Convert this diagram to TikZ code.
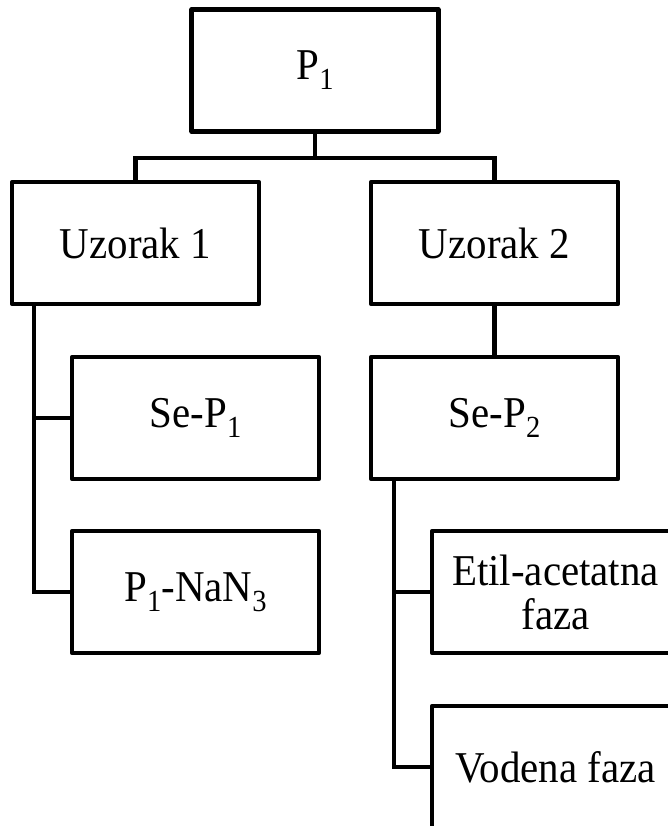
\documentclass[tikz,border=0pt]{standalone}
\usepackage{fontspec}
\setmainfont{Liberation Serif}[FakeStretch=0.93]
\newcommand{\subidx}[1]{\raisebox{-7.5pt}{\fontsize{23}{23}\selectfont #1}}

\begin{document}
\begin{tikzpicture}[x=0.75pt,y=-0.75pt,
  box/.style={draw,line width=3.3pt,line join=round,minimum width=185pt,minimum height=91.5pt,
    inner sep=0pt,align=center,font=\fontsize{33}{33}\selectfont},
  link/.style={line width=3.3pt}]
\useasboundingbox (0,0) rectangle (668,826);
\clip (0,0) rectangle (668,826);
\node[box] (p1) at (315,70.5) {P\subidx{1}};
\node[box] (u1) at (135.5,243) {Uzorak 1};
\node[box] (u2) at (494.5,243) {Uzorak 2};
\node[box] (sp1) at (195.5,418) {Se-P\subidx{1}};
\node[box] (na) at (195.5,592) {P\subidx{1}-NaN\subidx{3}};
\node[box] (sp2) at (494.5,418) {Se-P\subidx{2}};
\node[box] (et) at (555.5,592) {Etil-acetatna\\faza};
\node[box] (vo) at (555.5,767) {Vodena faza};
\draw[link] (p1.south) -- ++(0,24) coordinate (j);
\draw[link] (u1.north) |- (j) -| (u2.north);
\draw[link] (u2.south) -- (sp2.north);
\path ([xshift=18pt]u1.south west) coordinate (l1);
\draw[link] (l1) |- (na.west);
\draw[link] (l1 |- sp1.west) -- (sp1.west);
\path ([xshift=18.75pt]sp2.south west) coordinate (l2);
\draw[link] (l2) |- (vo.west);
\draw[link] (l2 |- et.west) -- (et.west);
\end{tikzpicture}
\end{document}
